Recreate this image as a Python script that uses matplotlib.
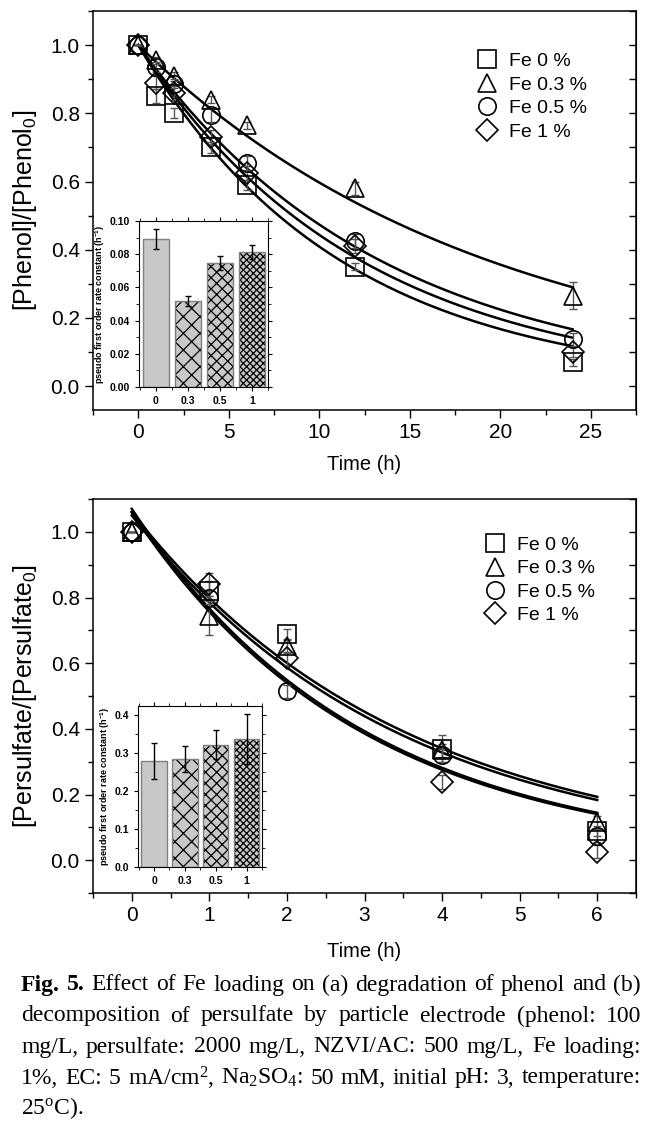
import numpy as np
import matplotlib
matplotlib.use("Agg")
import matplotlib.pyplot as plt
from matplotlib.lines import Line2D
from matplotlib.ticker import MultipleLocator

plt.rcParams['font.family'] = ['Liberation Sans', 'DejaVu Sans']
plt.rcParams['hatch.linewidth'] = 0.9

# ---- data: (a) phenol degradation ----
labels = ['Fe 0 %', 'Fe 0.3 %', 'Fe 0.5 %', 'Fe 1 %']
markers = ['s', '^', 'o', 'D']

t_phenol = [0, 1, 2, 4, 6, 12, 24]
phenol_fe0 = [1.0, 0.85, 0.80, 0.70, 0.59, 0.35, 0.07]
phenol_fe03 = [1.0, 0.955, 0.91, 0.84, 0.765, 0.58, 0.265]
phenol_fe05 = [1.0, 0.935, 0.885, 0.795, 0.655, 0.425, 0.137]
phenol_fe1 = [1.0, 0.89, 0.86, 0.73, 0.625, 0.41, 0.10]
phenol_err_fe0 = [0, 0.02, 0.015, 0.015, 0.015, 0.01, 0.01]
phenol_err_fe03 = [0, 0.01, 0.01, 0.01, 0.01, 0.02, 0.04]
phenol_err_fe05 = [0, 0.015, 0.01, 0.02, 0.02, 0.02, 0.02]
phenol_err_fe1 = [0, 0.02, 0.02, 0.02, 0.02, 0.02, 0.015]

# inset (a): pseudo first order rate constants
fe_load = ['0', '0.3', '0.5', '1']
k_phenol = [0.0894, 0.0516, 0.0747, 0.0813]
k_phenol_err = [0.006, 0.003, 0.004, 0.0044]

# ---- data: (b) persulfate decomposition ----
t_ps = [0, 1, 2, 4, 6]
ps_fe0 = [1.0, 0.82, 0.688, 0.34, 0.088]
ps_fe03 = [1.0, 0.745, 0.652, 0.335, 0.115]
ps_fe05 = [1.0, 0.80, 0.515, 0.32, 0.075]
ps_fe1 = [1.0, 0.84, 0.615, 0.238, 0.026]
ps_err_fe0 = [0, 0.03, 0.015, 0.04, 0.015]
ps_err_fe03 = [0, 0.06, 0.02, 0.02, 0.02]
ps_err_fe05 = [0, 0.02, 0.02, 0.02, 0.02]
ps_err_fe1 = [0, 0.035, 0.02, 0.02, 0.02]

# fitted curves for (b): C = A*exp(-k t)
ps_fit_a = [1.06, 1.05, 1.07, 1.06]
ps_fit_k = [0.284, 0.291, 0.334, 0.337]

# inset (b)
k_ps = [0.280, 0.2855, 0.323, 0.338]
k_ps_err = [0.048, 0.034, 0.039, 0.065]

W, H = 655, 1126
fig = plt.figure(figsize=(W / 100, H / 100), dpi=100)


def fpos(l, t, r, b):
    return [l / W, 1 - b / H, (r - l) / W, (b - t) / H]


def style_main(ax):
    ax.tick_params(which='both', direction='out', top=False, right=False, labelsize=15)
    ax.tick_params(which='major', length=6, width=1)
    ax.tick_params(which='minor', length=3.5, width=1)
    for s in ax.spines.values():
        s.set_linewidth(1.1)
    # inward ticks on the right side
    sec = ax.secondary_yaxis('right')
    sec.tick_params(which='both', direction='in', labelright=False, length=5, width=1)
    sec.yaxis.set_major_locator(MultipleLocator(0.1))


def draw_series(ax, t, ys, errs):
    for y, e, m in zip(ys, errs, markers):
        ax.errorbar(t, y, yerr=e, fmt='none', ecolor='#555555', elinewidth=1,
                    capsize=3, capthick=1, zorder=2)
        ms = 11 if m == 'D' else 12.5
        ax.plot(t, y, linestyle='none', marker=m, ms=ms,
                mfc='none', mec='black', mew=1.2, zorder=3)


def add_legend(ax, anchor):
    handles = [Line2D([], [], linestyle='none', marker=m, mfc='none', mec='black',
                      mew=1.2, ms=12.5 if m != 'D' else 11) for m in markers]
    ax.legend(handles, labels, loc='upper left', bbox_to_anchor=anchor, frameon=False,
              fontsize=14, handletextpad=0.5, labelspacing=0.3, handlelength=1.2,
              borderaxespad=0)


def draw_inset(rect, vals, errs, ylim, major, minor, fmt):
    ins = fig.add_axes(rect)
    x = np.arange(len(vals))
    hatches = [None, 'xx', 'xxx', 'xxxxx']
    for xi, v, h in zip(x, vals, hatches):
        ins.bar(xi, v, width=0.82, color='#c8c8c8', edgecolor='black', hatch=h, linewidth=0)
        ins.bar(xi, v, width=0.82, fill=False, edgecolor='#808080', linewidth=1)
    ins.errorbar(x, vals, yerr=errs, fmt='none', ecolor='black', elinewidth=1,
                 capsize=2.5, capthick=1)
    ins.set_xlim(-0.52, 3.5)
    ins.set_ylim(*ylim)
    ins.set_xticks(x)
    ins.set_xticklabels(fe_load, fontweight='bold')
    ins.xaxis.set_minor_locator(MultipleLocator(0.5))
    ins.yaxis.set_major_locator(MultipleLocator(major))
    ins.yaxis.set_minor_locator(MultipleLocator(minor))
    ins.yaxis.set_major_formatter(fmt)
    ins.tick_params(which='both', labelsize=7.5, direction='out', top=True, right=True)
    ins.tick_params(which='major', length=3)
    ins.tick_params(which='minor', length=2)
    for lab in ins.get_yticklabels():
        lab.set_fontweight('bold')
    ins.set_ylabel('pseudo first order rate constant (h$^{\\mathregular{-1}}$)',
                   fontsize=6.5, fontweight='bold', labelpad=2)
    return ins


# ---------------- panel (a) ----------------
ax1 = fig.add_axes(fpos(93, 11, 636, 410))
phenol_vals = [phenol_fe0, phenol_fe03, phenol_fe05, phenol_fe1]
phenol_errs = [phenol_err_fe0, phenol_err_fe03, phenol_err_fe05, phenol_err_fe1]
tt = np.linspace(0, t_phenol[-1], 200)
for k in k_phenol:
    ax1.plot(tt, np.exp(-k * tt), color='black', lw=1.8, zorder=1)
draw_series(ax1, t_phenol, phenol_vals, phenol_errs)
ax1.set_xlim(-2.5, 27.5)
ax1.set_ylim(-0.07, 1.1)
ax1.xaxis.set_major_locator(MultipleLocator(5))
ax1.xaxis.set_minor_locator(MultipleLocator(2.5))
ax1.yaxis.set_major_locator(MultipleLocator(0.2))
ax1.yaxis.set_minor_locator(MultipleLocator(0.1))
style_main(ax1)
ax1.set_xlabel('Time (h)', fontsize=14.5)
ax1.xaxis.set_label_coords(0.5, -0.113)
ax1.set_ylabel('[Phenol]/[Phenol$\\mathregular{_0}$]', fontsize=18)
ax1.yaxis.set_label_coords(-0.1, 0.5)
add_legend(ax1, (0.69, 0.915))

draw_inset(fpos(139, 221, 268, 387), k_phenol, k_phenol_err, (0, 0.10), 0.02, 0.01,
           '{x:.2f}')

# ---------------- panel (b) ----------------
ax2 = fig.add_axes(fpos(93, 499, 636, 893))
ps_vals = [ps_fe0, ps_fe03, ps_fe05, ps_fe1]
ps_errs = [ps_err_fe0, ps_err_fe03, ps_err_fe05, ps_err_fe1]
tt2 = np.linspace(0, t_ps[-1], 200)
for a, k in zip(ps_fit_a, ps_fit_k):
    ax2.plot(tt2, a * np.exp(-k * tt2), color='black', lw=1.8, zorder=1)
draw_series(ax2, t_ps, ps_vals, ps_errs)
ax2.set_xlim(-0.5, 6.5)
ax2.set_ylim(-0.1, 1.1)
ax2.xaxis.set_major_locator(MultipleLocator(1))
ax2.xaxis.set_minor_locator(MultipleLocator(0.5))
ax2.yaxis.set_major_locator(MultipleLocator(0.2))
ax2.yaxis.set_minor_locator(MultipleLocator(0.1))
style_main(ax2)
ax2.set_xlabel('Time (h)', fontsize=14.5)
ax2.xaxis.set_label_coords(0.5, -0.125)
ax2.set_ylabel('[Persulfate/[Persulfate$\\mathregular{_0}$]', fontsize=18)
ax2.yaxis.set_label_coords(-0.1, 0.5)
add_legend(ax2, (0.705, 0.925))

draw_inset(fpos(138, 706, 262, 867), k_ps, k_ps_err, (0, 0.425), 0.1, 0.05, '{x:.1f}')

# ---------------- caption (justified) ----------------
caption = [
    [('Fig.', 'bold'), ('5.', 'bold'), ('Effect', None), ('of', None), ('Fe', None),
     ('loading', None), ('on', None), ('(a)', None), ('degradation', None), ('of', None),
     ('phenol', None), ('and', None), ('(b)', None)],
    [(w, None) for w in 'decomposition of persulfate by particle electrode (phenol: 100'.split()],
    [(w, None) for w in 'mg/L, persulfate: 2000 mg/L, NZVI/AC: 500 mg/L, Fe loading:'.split()],
    [(w, None) for w in ['1%,', 'EC:', '5', 'mA/cm$\\mathregular{^2}$,',
                         'Na$\\mathregular{_2}$SO$\\mathregular{_4}$:', '50', 'mM,',
                         'initial', 'pH:', '3,', 'temperature:']],
    [('25$\\mathregular{^o}$C).', None)],
]
renderer = fig.canvas.get_renderer()
x_left, x_right = 21, 641
line_y = [985, 1016, 1047, 1078, 1108]
for i, (words, y) in enumerate(zip(caption, line_y)):
    texts = []
    for w, wt in words:
        texts.append(fig.text(0, 1 - y / H, w, fontsize=17, va='center', ha='left',
                              family=['Liberation Serif', 'DejaVu Serif'],
                              fontweight=wt or 'normal'))
    widths = [t.get_window_extent(renderer).width for t in texts]
    if i < len(caption) - 1 and len(texts) > 1:
        gap = (x_right - x_left - sum(widths)) / (len(texts) - 1)
    else:
        gap = 5
    x = x_left
    for t, wd in zip(texts, widths):
        t.set_x(x / W)
        x += wd + gap

fig.savefig('out.png', dpi=100)
